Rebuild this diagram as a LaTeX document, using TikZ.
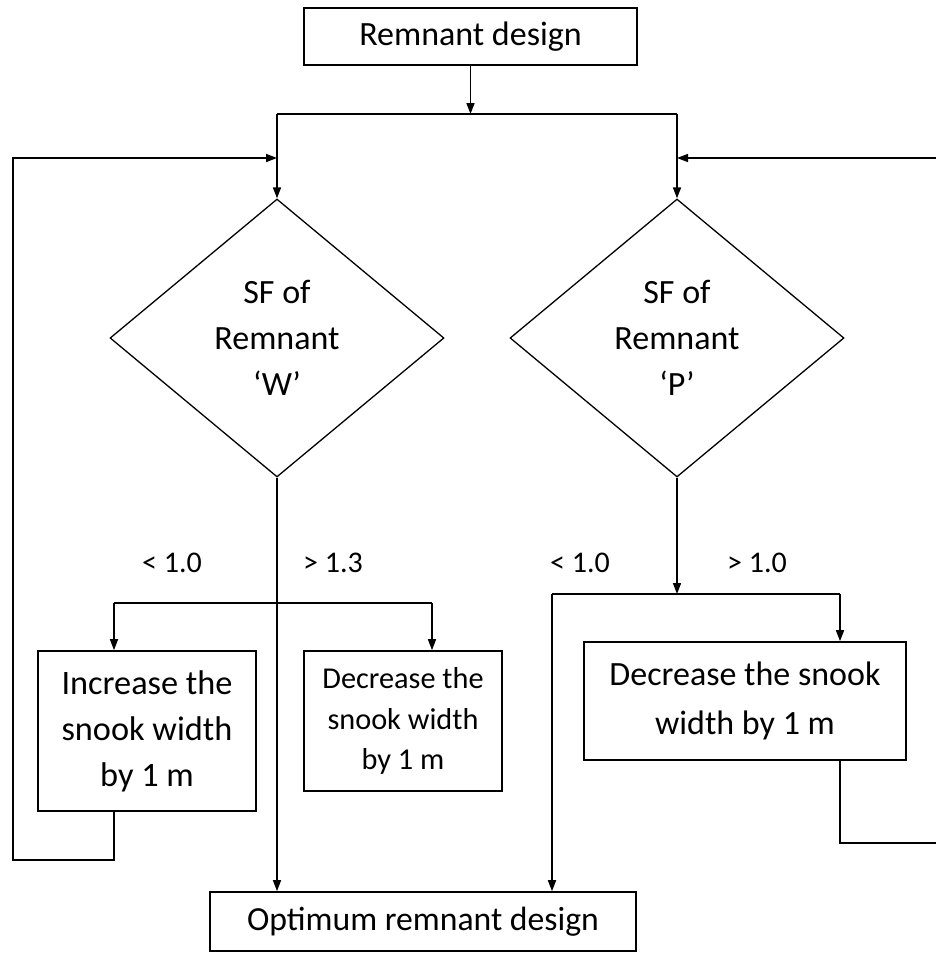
\documentclass[tikz,border=0pt]{standalone}
\usepackage{fontspec}
\setmainfont{Carlito}
\usetikzlibrary{shapes.geometric,arrows.meta}
\begin{document}
\begin{tikzpicture}[x=1pt,y=-1pt, line width=1.6pt,
  box/.style={draw, rectangle, inner sep=0pt, align=center},
  dia/.style={draw, diamond, inner sep=0pt, aspect=1.2, align=center,
    minimum width=334pt, minimum height=278pt, line width=1.3pt,
    font=\fontsize{34}{46}\selectfont},
  arr/.style={-{Triangle[length=11pt,width=8pt]}},
  lbl/.style={inner sep=0pt, font=\fontsize{30}{32}\selectfont}]
\useasboundingbox (0,0) rectangle (936,953);
\fill[white] (0,0) rectangle (936,953);

% nodes
\node[box, minimum width=333pt, minimum height=57pt, font=\fontsize{34}{38}\selectfont] (top) at (470.5,36.5) {Remnant design};
\node[dia] (dw) at (277,338) {SF of\\Remnant\\‘W’};
\node[dia] (dp) at (677,338) {SF of\\Remnant\\‘P’};
\node[box, minimum width=218pt, minimum height=160pt, font=\fontsize{34.3}{46}\selectfont] (inc) at (147,731) {Increase the\\snook width\\by 1 m};
\node[box, minimum width=198pt, minimum height=140pt, font=\fontsize{30.3}{40.5}\selectfont] (decw) at (403,721) {Decrease the\\snook width\\by 1 m};
\node[box, minimum width=322pt, minimum height=118pt, font=\fontsize{34}{49}\selectfont] (decp) at (745,701) {Decrease the snook\\width by 1 m};
\node[box, minimum width=426pt, minimum height=59pt, font=\fontsize{33.7}{38}\selectfont] (opt) at (423,921.5) {Optimum remnant design};

\node[lbl] (l1) at (172,563) {< 1.0};
\node[lbl] (l2) at (333,563) {> 1.3};
\node[lbl] (l3) at (580,563) {< 1.0};
\node[lbl] (l4) at (757,563) {> 1.0};

% junction coordinates
\coordinate (j0) at (470.5,114);
\coordinate (jl) at (277,114);
\coordinate (jr) at (677,114);
\coordinate (lin) at (277,158);
\coordinate (rin) at (677,158);
\coordinate (ai) at (114,603);
\coordinate (aw) at (432,603);
\coordinate (bp) at (677,594);
\coordinate (bl) at (552,594);
\coordinate (br) at (840,594);

% connectors
\draw[arr] (top) -- (j0);
\draw (jl) -- (jr);
\draw[arr] (jl) -- (dw.north);
\draw[arr] (jr) -- (dp.north);

\draw[arr] (dw.south) -- (dw.south |- opt.north);
\draw (ai) -- (aw);
\draw[arr] (ai) -- (ai |- inc.north);
\draw[arr] (aw) -- (aw |- decw.north);

\draw[arr] (dp.south) -- (bp);
\draw (bl) -- (br);
\draw[arr] (br) -- (br |- decp.north);
\draw[arr] (bl) -- (bl |- opt.north);

\draw[arr] (ai |- inc.south) |- (13,860) |- (lin);
\draw[arr] (br |- decp.south) |- (937,843) |- (rin);
\end{tikzpicture}
\end{document}
